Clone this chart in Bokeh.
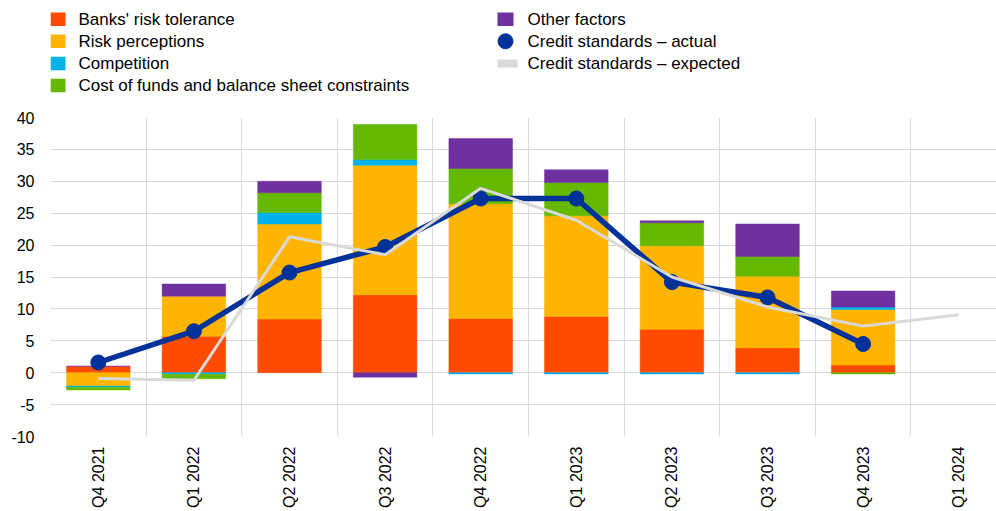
import numpy as np
from math import pi
from bokeh.plotting import figure
from bokeh.layouts import column
from bokeh.models import Range1d, FixedTicker, ColumnDataSource
from bokeh.core.properties import value
from bokeh.embed import file_html
from bokeh.resources import INLINE

# ---------------- data ----------------
categories = ["Q4 2021", "Q1 2022", "Q2 2022", "Q3 2022", "Q4 2022",
              "Q1 2023", "Q2 2023", "Q3 2023", "Q4 2023", "Q1 2024"]
bar_categories = categories[:9]

banks_risk_tolerance = [1.0, 5.7, 8.4, 12.2, 8.5, 8.8, 6.8, 3.9, 1.2]
risk_perceptions = [-2.1, 6.3, 14.9, 20.3, 18.0, 15.8, 13.1, 11.2, 8.7]
competition = [-0.2, -0.25, 1.8, 0.9, -0.2, -0.2, -0.2, -0.2, 0.4]
cost_of_funds = [-0.4, -0.7, 3.1, 5.5, 5.5, 5.2, 3.6, 3.1, -0.2]
other_factors = [0.0, 1.9, 1.8, -0.7, 4.7, 2.0, 0.3, 5.1, 2.5]

credit_actual = [1.6, 6.5, 15.7, 19.7, 27.3, 27.3, 14.2, 11.8, 4.5]
credit_expected = [-0.9, -1.2, 21.3, 18.5, 28.9, 23.9, 15.0, 10.3, 7.3, 9.1]

series_names = ["Banks' risk tolerance", "Risk perceptions", "Competition",
                "Cost of funds and balance sheet constraints", "Other factors"]
series_values = [banks_risk_tolerance, risk_perceptions, competition,
                 cost_of_funds, other_factors]
series_colors = ["#FF4B00", "#FFB400", "#00B1EA", "#65B800", "#7030A0"]
actual_label = "Credit standards \u2013 actual"
expected_label = "Credit standards \u2013 expected"
actual_color = "#003299"
expected_color = "#D9D9D9"

yticks = [-10, -5, 0, 5, 10, 15, 20, 25, 30, 35, 40]
ytick_labels = ["-10", "-5", "0", "5", "10", "15", "20", "25", "30", "35", "40"]

FONT = value("Liberation Sans")
TEXT_COLOR = "#000000"

# ---------------- layout constants ----------------
W = 996
LEFT = 50          # frame left edge (px)
LEG_H = 109        # legend panel height
TOP_GAP = 8        # gap above plot frame inside main figure
FRAME_H = 319
BOTTOM = 74
MAIN_H = TOP_GAP + FRAME_H + BOTTOM

# ---------------- main chart ----------------
p = figure(width=W, height=MAIN_H, output_backend="svg", toolbar_location=None,
           x_range=Range1d(-0.5, 9.395), y_range=Range1d(-10, 40),
           min_border_left=LEFT, min_border_right=0, min_border_top=TOP_GAP,
           min_border_bottom=BOTTOM)
p.outline_line_color = None
p.background_fill_color = "white"
p.border_fill_color = "white"

xs = np.arange(len(bar_categories))
pos_base = np.zeros(len(xs))
neg_base = np.zeros(len(xs))
for name, vals, col in zip(series_names, series_values, series_colors):
    v = np.array(vals, dtype=float)
    bottom = np.where(v >= 0, pos_base, neg_base)
    top = bottom + v
    pos_base = np.where(v >= 0, top, pos_base)
    neg_base = np.where(v < 0, top, neg_base)
    src = ColumnDataSource(dict(x=xs, bottom=bottom, top=top))
    p.vbar(x="x", bottom="bottom", top="top", width=0.665, source=src,
           fill_color=col, line_color=col, line_width=0.5)

ax = np.arange(len(credit_actual))
p.line(ax, credit_actual, line_color=actual_color, line_width=5.5)
p.scatter(ax, credit_actual, size=15, fill_color=actual_color,
          line_color=actual_color)
ex = np.arange(len(credit_expected))
p.line(ex, credit_expected, line_color=expected_color, line_width=3)

# grids
p.xgrid.ticker = FixedTicker(ticks=[i - 0.5 for i in range(len(categories) + 1)])
p.ygrid.ticker = FixedTicker(ticks=yticks)
for g in (p.xgrid, p.ygrid):
    g.grid_line_color = "#D9D9D9"
    g.grid_line_width = 1

# axes
p.xaxis.ticker = FixedTicker(ticks=list(range(len(categories))))
p.xaxis.major_label_overrides = {i: c for i, c in enumerate(categories)}
p.xaxis.major_label_orientation = pi / 2
p.yaxis.ticker = FixedTicker(ticks=yticks)
p.yaxis.major_label_overrides = {t: s for t, s in zip(yticks, ytick_labels)}
for a in (p.xaxis, p.yaxis):
    a.axis_line_color = None
    a.major_tick_line_color = None
    a.minor_tick_line_color = None
    a.major_tick_out = 0
    a.major_tick_in = 0
    a.minor_tick_out = 0
    a.minor_tick_in = 0
    a.major_label_text_font = "Liberation Sans"
    a.major_label_text_font_size = "16px"
    a.major_label_text_color = TEXT_COLOR
p.xaxis.major_label_standoff = 10
p.yaxis.major_label_standoff = 16

# ---------------- legend (separate panel, page-pixel coordinates) ----------------
lg = figure(width=W, height=LEG_H, output_backend="svg", toolbar_location=None,
            x_range=Range1d(LEFT, W), y_range=Range1d(LEG_H, 0),
            min_border_left=LEFT, min_border_right=0,
            min_border_top=0, min_border_bottom=0)
lg.axis.visible = False
lg.grid.visible = False
lg.outline_line_color = None
lg.border_fill_color = "white"
lg.background_fill_color = "white"

row_y = [18.7 + 22.1 * i for i in range(4)]
col1_x, col1_text = 57.5, 78.0
col2_x, col2_text = 505.0, 527.0
LEG_FS = "17px"


def leg_text(x, y, s):
    lg.text(x=[x], y=[y], text=[s], text_font=FONT, text_font_size=LEG_FS,
            text_color=TEXT_COLOR, text_baseline="middle", text_align="left")


# column 1: four bar series
for i in range(4):
    lg.rect(x=[col1_x], y=[row_y[i]], width=15, height=13.5,
            fill_color=series_colors[i], line_color=None)
    leg_text(col1_text, row_y[i], series_names[i])

# column 2
lg.rect(x=[col2_x], y=[row_y[0]], width=16, height=13.5,
        fill_color=series_colors[4], line_color=None)
leg_text(col2_text, row_y[0], series_names[4])

lg.scatter(x=[col2_x], y=[row_y[1]], size=15, fill_color=actual_color,
           line_color=actual_color)
leg_text(col2_text, row_y[1], actual_label)

lg.rect(x=[col2_x + 2], y=[row_y[2]], width=20, height=8,
        fill_color=expected_color, line_color=None)
leg_text(col2_text, row_y[2], expected_label)

layout = column(lg, p, spacing=0)

open("out.html", "w").write(file_html(layout, INLINE))
